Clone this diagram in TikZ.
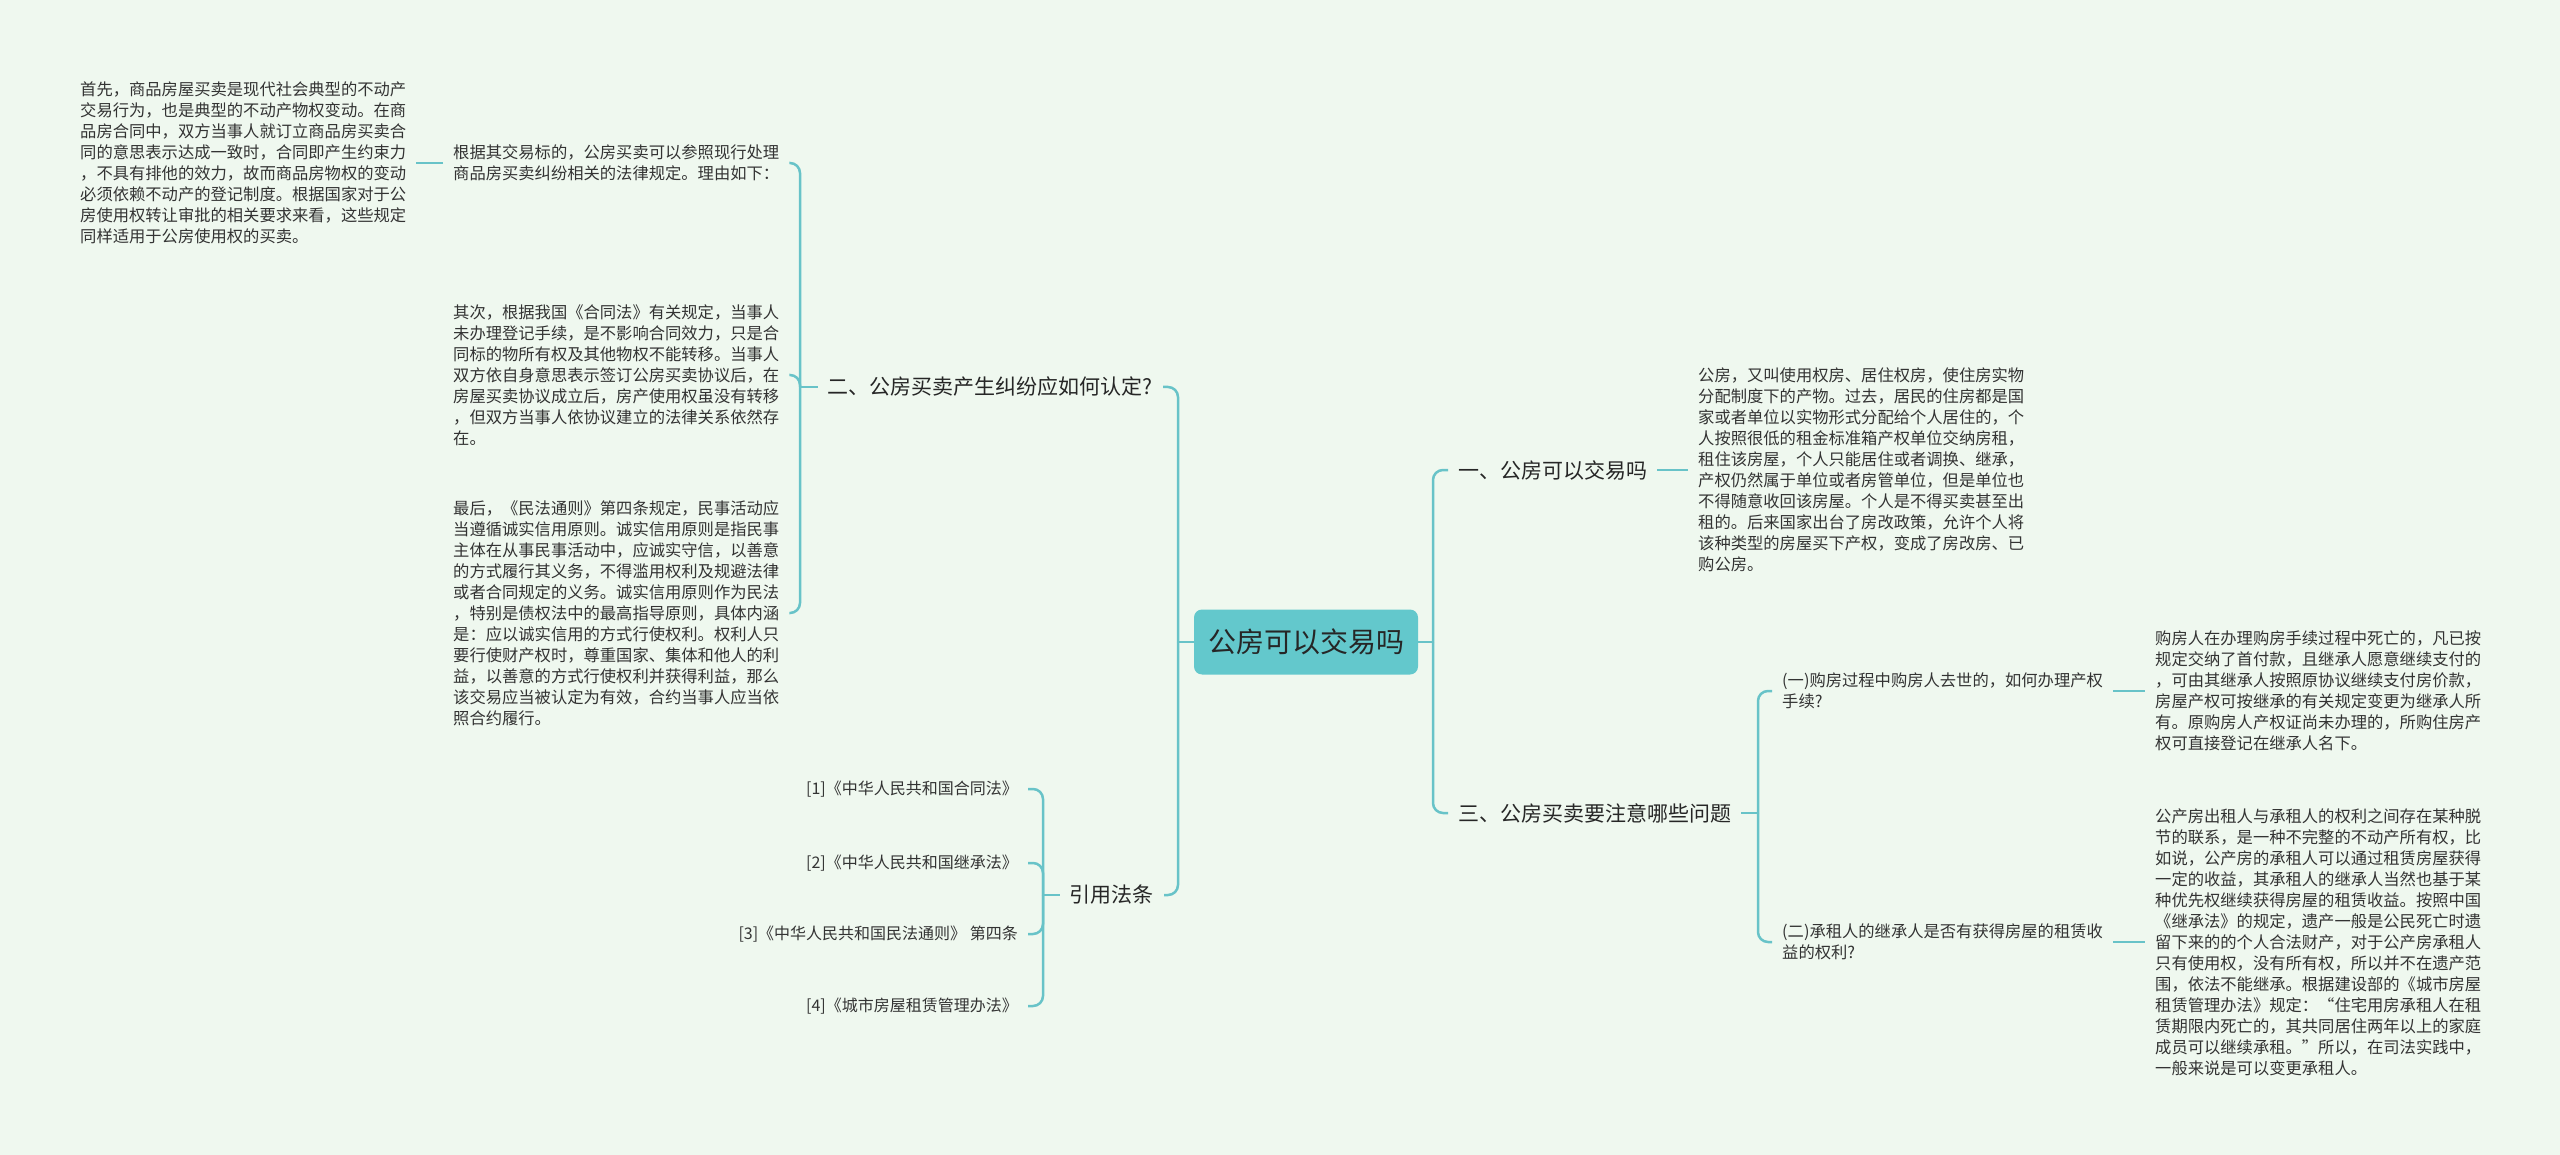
\documentclass[tikz,border=0pt]{standalone}
\usepackage{fontspec}
\setmainfont{Noto Sans CJK SC}
\definecolor{bgmint}{HTML}{EFF8EF}
\definecolor{branch}{HTML}{68C3C8}
\definecolor{rootfill}{HTML}{63C8CC}
\definecolor{inktext}{HTML}{333333}

\begin{document}
\begin{tikzpicture}[x=1pt, y=-1pt,
  link/.style={draw=branch, line width=2.5pt, rounded corners=10pt},
  rootbox/.style={fill=rootfill, rounded corners=8pt, minimum width=224pt, minimum height=65pt,
    font=\fontsize{28}{32}\selectfont, text=black!85},
  topic/.style={font=\fontsize{21}{26}\selectfont, text=black!85, inner xsep=10pt, inner ysep=2pt},
  leaf/.style={font=\fontsize{16.3}{21}\selectfont, text=inktext, align=left, inner xsep=10pt, inner ysep=2pt}]
% background
\fill[bgmint] (0,0) rectangle (2560,1155);
% centre topic
\node[rootbox] (root) at (1306,642) {公房可以交易吗};
% right side
\node[topic, anchor=west] (canTrade) at (1448,470) {一、公房可以交易吗};
\node[topic, anchor=west] (attention) at (1448,813) {三、公房买卖要注意哪些问题};
\node[leaf, anchor=west] (canTradeTxt) at (1688,470) {公房，又叫使用权房、居住权房，使住房实物\\
  分配制度下的产物。过去，居民的住房都是国\\
  家或者单位以实物形式分配给个人居住的，个\\
  人按照很低的租金标准箱产权单位交纳房租，\\
  租住该房屋，个人只能居住或者调换、继承，\\
  产权仍然属于单位或者房管单位，但是单位也\\
  不得随意收回该房屋。个人是不得买卖甚至出\\
  租的。后来国家出台了房改政策，允许个人将\\
  该种类型的房屋买下产权，变成了房改房、已\\
  购公房。};
\node[leaf, anchor=west] (buyerDies) at (1772,691) {(一)购房过程中购房人去世的，如何办理产权\\手续?};
\node[leaf, anchor=west] (heirRight) at (1772,942) {(二)承租人的继承人是否有获得房屋的租赁收\\益的权利?};
\node[leaf, anchor=west] (buyerDiesTxt) at (2145,691) {购房人在办理购房手续过程中死亡的，凡已按\\
  规定交纳了首付款，且继承人愿意继续支付的\\
  ，可由其继承人按照原协议继续支付房价款，\\
  房屋产权可按继承的有关规定变更为继承人所\\
  有。原购房人产权证尚未办理的，所购住房产\\
  权可直接登记在继承人名下。};
\node[leaf, anchor=west] (heirRightTxt) at (2145,942) {公产房出租人与承租人的权利之间存在某种脱\\
  节的联系，是一种不完整的不动产所有权，比\\
  如说，公产房的承租人可以通过租赁房屋获得\\
  一定的收益，其承租人的继承人当然也基于某\\
  种优先权继续获得房屋的租赁收益。按照中国\\
  《继承法》的规定，遗产一般是公民死亡时遗\\
  留下来的的个人合法财产，对于公产房承租人\\
  只有使用权，没有所有权，所以并不在遗产范\\
  围，依法不能继承。根据建设部的《城市房屋\\
  租赁管理办法》规定：“住宅用房承租人在租\\
  赁期限内死亡的，其共同居住两年以上的家庭\\
  成员可以继续承租。”所以，在司法实践中，\\
  一般来说是可以变更承租人。};
% left side
\node[topic, anchor=east] (dispute) at (1163,387) {二、公房买卖产生纠纷应如何认定?};
\node[leaf, anchor=west] (basis) at (443,163) {根据其交易标的，公房买卖可以参照现行处理\\商品房买卖纠纷相关的法律规定。理由如下：};
\node[leaf, anchor=west] (first) at (70,163) {首先，商品房屋买卖是现代社会典型的不动产\\
  交易行为，也是典型的不动产物权变动。在商\\
  品房合同中，双方当事人就订立商品房买卖合\\
  同的意思表示达成一致时，合同即产生约束力\\
  ，不具有排他的效力，故而商品房物权的变动\\
  必须依赖不动产的登记制度。根据国家对于公\\
  房使用权转让审批的相关要求来看，这些规定\\
  同样适用于公房使用权的买卖。};
\node[leaf, anchor=west] (second) at (443,375) {其次，根据我国《合同法》有关规定，当事人\\
  未办理登记手续，是不影响合同效力，只是合\\
  同标的物所有权及其他物权不能转移。当事人\\
  双方依自身意思表示签订公房买卖协议后，在\\
  房屋买卖协议成立后，房产使用权虽没有转移\\
  ，但双方当事人依协议建立的法律关系依然存\\
  在。};
\node[leaf, anchor=west] (last) at (443,613) {最后，《民法通则》第四条规定，民事活动应\\
  当遵循诚实信用原则。诚实信用原则是指民事\\
  主体在从事民事活动中，应诚实守信，以善意\\
  的方式履行其义务，不得滥用权利及规避法律\\
  或者合同规定的义务。诚实信用原则作为民法\\
  ，特别是债权法中的最高指导原则，具体内涵\\
  是：应以诚实信用的方式行使权利。权利人只\\
  要行使财产权时，尊重国家、集体和他人的利\\
  益，以善意的方式行使权利并获得利益，那么\\
  该交易应当被认定为有效，合约当事人应当依\\
  照合约履行。};
\node[topic, anchor=east] (laws) at (1164,895) {引用法条};
\foreach \n/\y/\t in {1/789/{[1]《中华人民共和国合同法》}, 2/863/{[2]《中华人民共和国继承法》},
    3/934/{[3]《中华人民共和国民法通则》 第四条}, 4/1006/{[4]《城市房屋租赁管理办法》}}
  \node[leaf, font=\fontsize{16}{20}\selectfont, anchor=east] (law\n) at (1028,\y) {\t};
% connectors
\coordinate (rootR) at (1433,642);
\coordinate (rootL) at (1178,642);
\coordinate (attJ) at (1758,813);
\coordinate (dispJ) at (800,387);
\coordinate (lawJ) at (1043,895);
\draw[link] (root.east) -- (rootR);
\draw[link] (rootR) |- (canTrade.west);
\draw[link] (rootR) |- (attention.west);
\draw[link] (canTrade.east) -- (canTradeTxt.west);
\draw[link] (attention.east) -- (attJ);
\draw[link] (attJ) |- (buyerDies.west);
\draw[link] (attJ) |- (heirRight.west);
\draw[link] (buyerDies.east) -- (buyerDiesTxt.west);
\draw[link] (heirRight.east) -- (heirRightTxt.west);
\draw[link] (root.west) -- (rootL);
\draw[link] (rootL) |- (dispute.east);
\draw[link] (rootL) |- (laws.east);
\draw[link] (dispute.west) -- (dispJ);
\foreach \c in {basis,second,last}
  \draw[link] (dispJ) |- (\c.east);
\draw[link] (basis.west) -- (first.east);
\draw[link] (laws.west) -- (lawJ);
\foreach \n in {1,...,4}
  \draw[link] (lawJ) |- (law\n.east);
\end{tikzpicture}
\end{document}
